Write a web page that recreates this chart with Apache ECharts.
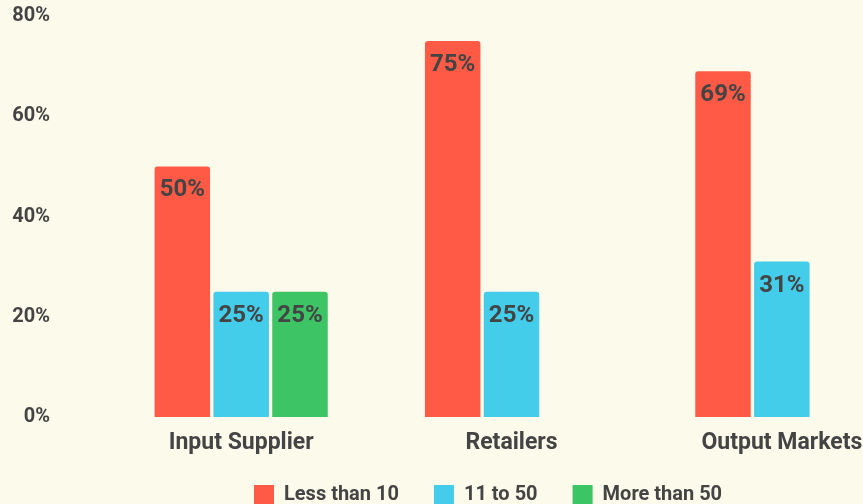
<!DOCTYPE html>
<html>
<head>
<meta charset="utf-8">
<script src="https://cdn.jsdelivr.net/npm/echarts@6/dist/echarts.min.js"></script>
<style>
html,body{margin:0;padding:0;background:#fcfaeb;overflow:hidden;width:863px;height:504px;}
#c{width:917px;height:504px;}
</style>
</head>
<body>
<div id="c"></div>
<script>
const categories = ['Input Supplier', 'Retailers', 'Output Markets'];
const lessThan10 = [50, 75, 69];
const from11to50 = [25, 25, 31];
const moreThan50 = [25, null, null];
const seriesNames = ['Less than 10', '11 to 50', 'More than 50'];
const yTicks = [0, 20, 40, 60, 80];

const colors = ['#ff5a46', '#43cdeb', '#3cc465'];
const txt = '#444444';
const font = 'Roboto';

const chart = echarts.init(document.getElementById('c'));
function bar(name, data, color) {
  return {
    name: name, type: 'bar', data: data,
    barWidth: 55.5, barGap: '6%',
    itemStyle: { color: color, borderRadius: [3, 3, 0, 0] },
    label: {
      show: true, position: 'insideTop', distance: 12,
      formatter: p => p.value + '%',
      color: txt, fontFamily: font, fontWeight: 'bold', fontSize: 24
    }
  };
}
chart.setOption({
  backgroundColor: '#fcfaeb',
  animation: false,
  color: colors,
  grid: { left: 106, right: 0, top: 16, bottom: 87, containLabel: false },
  legend: {
    left: 249, top: 480,
    itemWidth: 20, itemHeight: 20, itemGap: 35,
    icon: 'rect',
    data: seriesNames,
    textStyle: { color: txt, fontFamily: font, fontWeight: 'bold', fontSize: 20, padding: [0, 0, 0, 5] }
  },
  xAxis: {
    type: 'category', data: categories,
    axisLine: { show: false }, axisTick: { show: false },
    axisLabel: { margin: 15, color: txt, fontFamily: font, fontWeight: 'bold', fontSize: 23 }
  },
  yAxis: {
    type: 'value', min: yTicks[0], max: yTicks[yTicks.length - 1], interval: 20,
    splitLine: { show: false }, axisLine: { show: false }, axisTick: { show: false },
    axisLabel: { margin: 56, formatter: '{value}%', color: txt, fontFamily: font, fontWeight: 'bold', fontSize: 20 }
  },
  series: [
    bar(seriesNames[0], lessThan10, colors[0]),
    bar(seriesNames[1], from11to50, colors[1]),
    bar(seriesNames[2], moreThan50, colors[2])
  ]
});
</script>
</body>
</html>
